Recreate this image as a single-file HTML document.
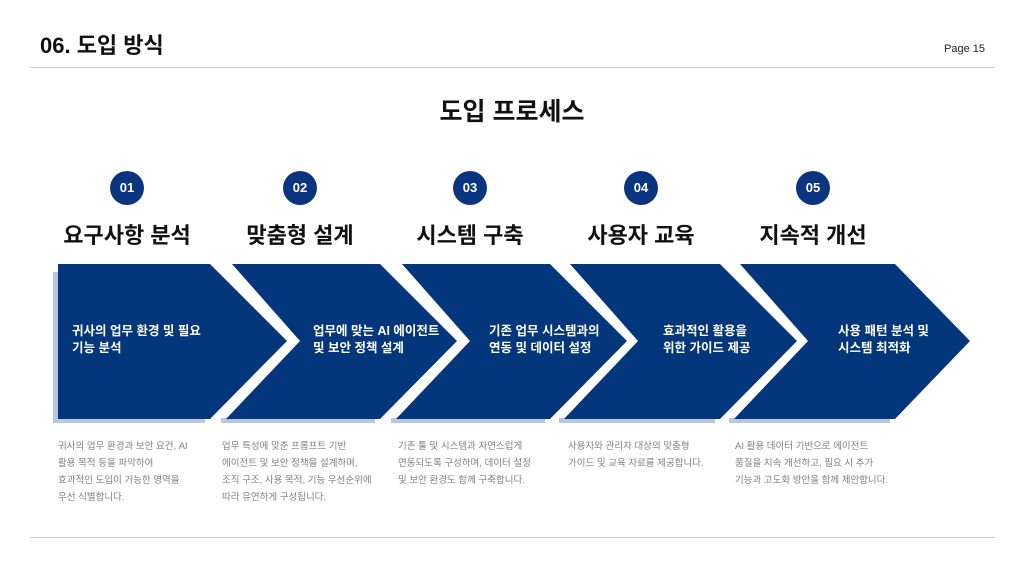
<!DOCTYPE html>
<html><head><meta charset="utf-8"><style>
body{margin:0;width:1024px;height:576px;background:#fff;position:relative;overflow:hidden;font-family:"Liberation Sans","Noto Sans CJK KR",sans-serif;}
.a{position:absolute;white-space:nowrap}
.num{position:absolute;width:34px;height:34px;border-radius:50%;background:#0b3480;color:#fff;font-weight:bold;font-size:13px;text-align:center;line-height:34px}
.t{position:absolute;width:200px;text-align:center;font-weight:bold;font-size:22px;color:#111;top:218px}
.in{position:absolute;color:#fff;font-weight:bold;font-size:12.5px;line-height:17px;top:323px;white-space:nowrap}
.d{position:absolute;color:#808080;font-size:9.5px;line-height:17px;top:438px;white-space:nowrap}
</style></head><body>
<div class="a" style="left:40px;top:28px;font-size:22px;font-weight:bold;color:#111">06. 도입 방식</div>
<div class="a" style="left:944px;top:43px;font-size:11px;color:#222">Page 15</div>
<div class="a" style="left:30px;top:67px;width:965px;height:1px;background:#ccc"></div>
<div class="a" style="left:30px;top:537px;width:965px;height:1px;background:#ccc"></div>
<div class="a" style="left:0;width:1024px;text-align:center;top:92px;font-size:25px;font-weight:bold;color:#111">도입 프로세스</div>
<svg class="a" style="left:0;top:0" width="1024" height="576">
<g fill="#b9c7e0">
<rect x="53" y="272" width="6" height="151"/>
<rect x="53" y="418" width="152" height="5"/>
<rect x="221" y="418" width="154" height="5"/>
<rect x="391" y="418" width="154" height="5"/>
<rect x="559" y="418" width="156" height="5"/>
<rect x="729" y="418" width="161" height="5"/>
</g>
<g fill="#03367a">
<polygon points="58,264 210,264 287,341 210,419 58,419"/>
<polygon points="232,264 380,264 457,341 380,419 226,419 300,341"/>
<polygon points="402,264 550,264 627,341 550,419 396,419 470,341"/>
<polygon points="570,264 720,264 797,341 720,419 564,419 638,341"/>
<polygon points="740,264 895,264 970,341 895,419 734,419 808,341"/>
</g>
</svg>
<div class="num" style="left:110px;top:171px">01</div>
<div class="num" style="left:283px;top:171px">02</div>
<div class="num" style="left:453px;top:171px">03</div>
<div class="num" style="left:624px;top:171px">04</div>
<div class="num" style="left:796px;top:171px">05</div>
<div class="t" style="left:27px">요구사항 분석</div>
<div class="t" style="left:200px">맞춤형 설계</div>
<div class="t" style="left:370px">시스템 구축</div>
<div class="t" style="left:541px">사용자 교육</div>
<div class="t" style="left:713px">지속적 개선</div>
<div class="in" style="left:72px">귀사의 업무 환경 및 필요<br>기능 분석</div>
<div class="in" style="left:313px">업무에 맞는 AI 에이전트<br>및 보안 정책 설계</div>
<div class="in" style="left:489px">기존 업무 시스템과의<br>연동 및 데이터 설정</div>
<div class="in" style="left:663px">효과적인 활용을<br>위한 가이드 제공</div>
<div class="in" style="left:838px">사용 패턴 분석 및<br>시스템 최적화</div>
<div class="d" style="left:58px">귀사의 업무 환경과 보안 요건, AI<br>활용 목적 등을 파악하여<br>효과적인 도입이 가능한 영역을<br>우선 식별합니다.</div>
<div class="d" style="left:222px">업무 특성에 맞춘 프롬프트 기반<br>에이전트 및 보안 정책을 설계하며,<br>조직 구조, 사용 목적, 기능 우선순위에<br>따라 유연하게 구성됩니다.</div>
<div class="d" style="left:398px">기존 툴 및 시스템과 자연스럽게<br>연동되도록 구성하며, 데이터 설정<br>및 보안 환경도 함께 구축합니다.</div>
<div class="d" style="left:568px">사용자와 관리자 대상의 맞춤형<br>가이드 및 교육 자료를 제공합니다.</div>
<div class="d" style="left:735px">AI 활용 데이터 기반으로 에이전트<br>품질을 지속 개선하고, 필요 시 추가<br>기능과 고도화 방안을 함께 제안합니다.</div>
</body></html>
